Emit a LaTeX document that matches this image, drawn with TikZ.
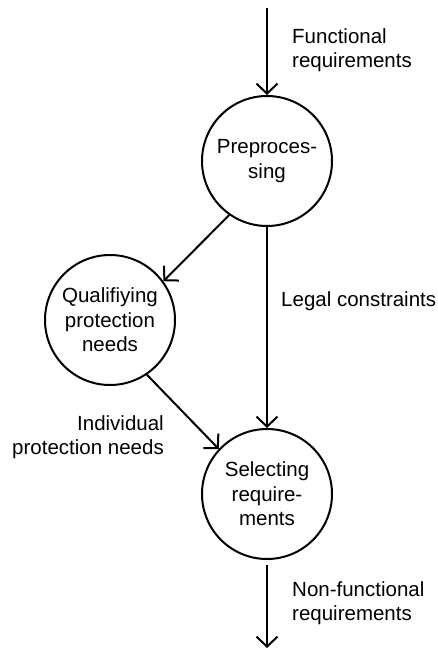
\documentclass[tikz,border=0pt]{standalone}
\usepackage{fontspec}
\setmainfont{Liberation Sans}
\usetikzlibrary{arrows.meta}
\begin{document}
\begin{tikzpicture}[x=1pt,y=-1pt,
  every node/.style={font=\fontsize{20.5}{24.5}\selectfont},
  process/.style={draw, circle, line width=2pt, minimum size=130pt,
                  inner sep=0pt, align=center},
  flow/.style={line width=2pt, -{Straight Barb[length=10pt,width=21pt]}},
  lbl/.style={inner sep=0pt}]
  \useasboundingbox (0,0) rectangle (437,650);

  % processing steps
  \node[process] (pre)  at (267,161) {Preproces-\\sing};
  \node[process] (qual) at (110,320) {Qualifiying\\protection\\needs};
  \node[process] (sel)  at (267,494) {Selecting\\require-\\ments};

  % open ends of the input and output flows
  \coordinate (in)  at (267,8);
  \coordinate (out) at (267,648);

  % flows
  \draw[flow] (in) -- (pre);
  \draw[flow] (pre.235) -- (qual.36);
  \draw[flow] (qual.-56) -- (sel.137);
  \draw[flow] (pre) -- (sel);
  \draw[flow, shorten <=5pt] (sel) -- (out);

  % flow labels
  \node[lbl, anchor=north west, align=left]  (lfunc)  at (292,28)  {Functional\\requirements};
  \node[lbl, anchor=north west, align=left]  (llegal) at (281,291) {Legal constraints};
  \node[lbl, anchor=north east, align=right] (lindiv) at (164,415) {Individual\\protection needs};
  \node[lbl, anchor=north west, align=left]  (lnonf)  at (292,581) {Non-functional\\requirements};
\end{tikzpicture}
\end{document}
